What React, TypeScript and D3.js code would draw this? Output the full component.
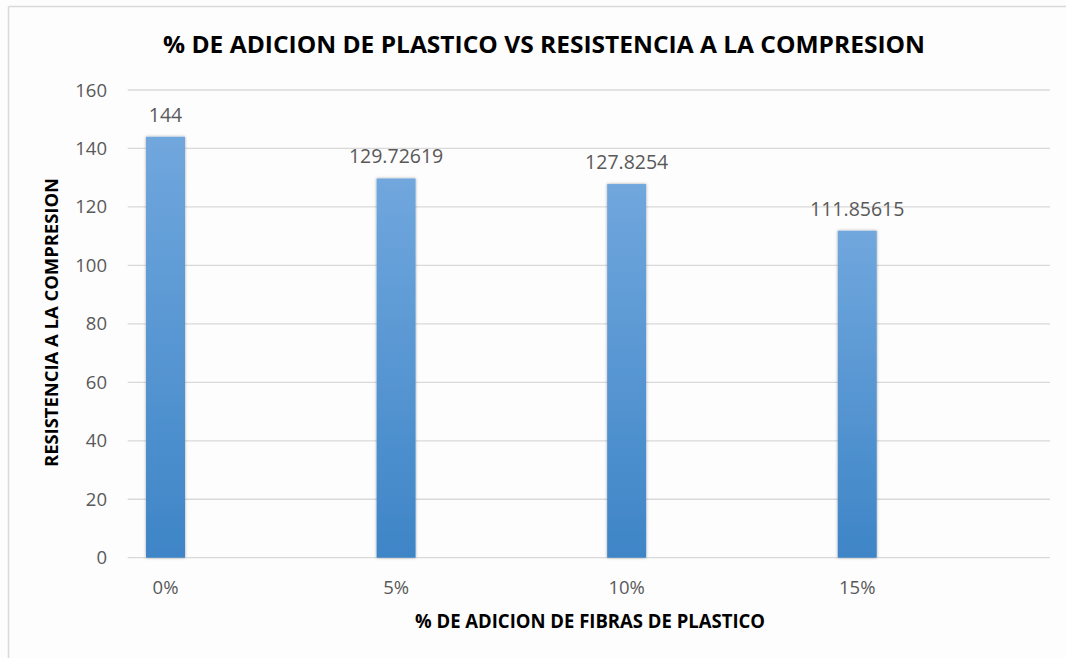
import React from "react";
import * as d3 from "d3";

const categories: string[] = ["0%", "5%", "10%", "15%"];
const resistencia: number[] = [144, 129.72619, 127.8254, 111.85615];
const valueLabels: string[] = ["144", "129.72619", "127.8254", "111.85615"];
const yTicks: number[] = [0, 20, 40, 60, 80, 100, 120, 140, 160];

const chartTitle = "% DE ADICION DE PLASTICO VS RESISTENCIA A LA COMPRESION";
const xTitle = "% DE ADICION DE FIBRAS DE PLASTICO";
const yTitle = "RESISTENCIA A LA COMPRESION";

const W = 1066;
const H = 658;
const plot = { left: 127.7, right: 1050, top: 90, bottom: 557.7 };
const FONT = "'Open Sans', 'Liberation Sans', sans-serif";

export default function App() {
  const x = d3
    .scaleBand<string>()
    .domain(categories)
    .range([plot.left, plot.right])
    .paddingInner(0)
    .paddingOuter(0);
  const y = d3.scaleLinear().domain([0, 160]).range([plot.bottom, plot.top]);

  const bw = x.bandwidth();
  const barOffset = bw * 0.0795;
  const barWidth = bw * 0.169;

  return (
    <svg
      width={W}
      height={H}
      viewBox={`0 0 ${W} ${H}`}
      style={{ position: "absolute", left: 0, top: 0, background: "#fff" }}
    >
      <defs>
        <linearGradient id="barFill" x1="0" y1="0" x2="0" y2="1">
          <stop offset="0%" stopColor="#70a7dd" />
          <stop offset="100%" stopColor="#3e85c7" />
        </linearGradient>
        <filter id="barShadow" x="-30%" y="-5%" width="160%" height="110%">
          <feDropShadow dx="0" dy="0" stdDeviation="1.6" floodColor="#000" floodOpacity="0.35" />
        </filter>
      </defs>

      <rect x={0} y={0} width={W} height={H} fill="#fdfdfd" />
      {/* chart area frame */}
      <line x1={8.5} x2={8.5} y1={6.5} y2={H} stroke="#d9d9d9" strokeWidth={1.5} />
      <line x1={8.5} x2={W} y1={6.5} y2={6.5} stroke="#d9d9d9" strokeWidth={1.5} />

      <text
        x={163}
        y={52.5}
        fontFamily={FONT}
        fontWeight={700}
        fontSize={23}
        fill="#000"
        textLength={762}
        lengthAdjust="spacingAndGlyphs"
      >
        {chartTitle}
      </text>

      {/* gridlines */}
      {yTicks.map((t) => (
        <line
          key={`g${t}`}
          x1={plot.left}
          x2={plot.right}
          y1={y(t)}
          y2={y(t)}
          stroke="#d9d9d9"
          strokeWidth={1.3}
        />
      ))}

      {/* y tick labels */}
      {yTicks.map((t) => (
        <text
          key={`t${t}`}
          x={107}
          y={y(t) + 6.5}
          textAnchor="end"
          fontFamily={FONT}
          fontSize={18.5}
          fill="#595959"
        >
          {t}
        </text>
      ))}

      {/* bars */}
      {categories.map((c, i) => (
        <rect
          key={`b${c}`}
          x={(x(c) as number) + barOffset}
          y={y(resistencia[i])}
          width={barWidth}
          height={y(0) - y(resistencia[i])}
          fill="url(#barFill)"
          filter="url(#barShadow)"
        />
      ))}

      {/* value labels */}
      {categories.map((c, i) => (
        <text
          key={`v${c}`}
          x={(x(c) as number) + barOffset + barWidth / 2}
          y={y(resistencia[i]) - 15}
          textAnchor="middle"
          fontFamily={FONT}
          fontSize={19.5}
          fill="#595959"
        >
          {valueLabels[i]}
        </text>
      ))}

      {/* category labels */}
      {categories.map((c) => (
        <text
          key={`c${c}`}
          x={(x(c) as number) + barOffset + barWidth / 2}
          y={593.5}
          textAnchor="middle"
          fontFamily={FONT}
          fontSize={18.5}
          fill="#595959"
        >
          {c}
        </text>
      ))}

      <text
        x={415}
        y={628}
        fontFamily={FONT}
        fontWeight={700}
        fontSize={19}
        fill="#000"
        textLength={350}
        lengthAdjust="spacingAndGlyphs"
      >
        {xTitle}
      </text>

      <text
        transform={`translate(58,467) rotate(-90)`}
        x={0}
        y={0}
        fontFamily={FONT}
        fontWeight={700}
        fontSize={18}
        fill="#000"
        textLength={289}
        lengthAdjust="spacingAndGlyphs"
      >
        {yTitle}
      </text>
    </svg>
  );
}
